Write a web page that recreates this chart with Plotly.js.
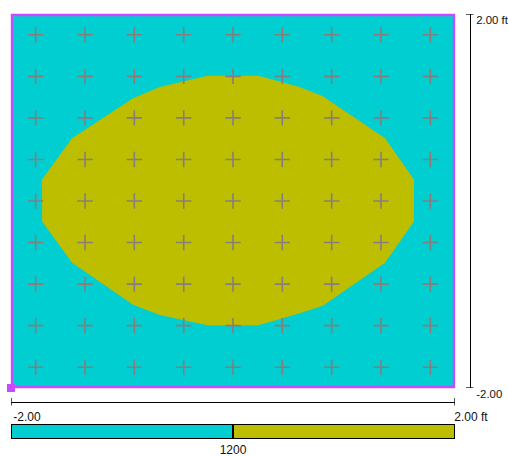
<!DOCTYPE html>
<html>
<head>
<meta charset="utf-8">
<script src="https://cdn.plot.ly/plotly-3.0.1.min.js"></script>
<style>html,body{margin:0;padding:0;background:#fff;}#chart{width:508px;height:456px;}</style>
</head>
<body>
<div id="chart"></div>
<script>
// Grid sample positions (ft)
const gridX = [-1.778, -1.333, -0.889, -0.444, 0, 0.444, 0.889, 1.333, 1.778];
const gridY = [-1.778, -1.333, -0.889, -0.444, 0, 0.444, 0.889, 1.333, 1.778];

// Contour region (value >= 1200) outline, ft
const regionX = [-1.72, -1.45, -0.90, -0.66, -0.23, 0.23, 0.60, 0.81, 1.37, 1.63, 1.63, 1.37, 0.81, 0.60, 0.23, -0.23, -0.66, -0.90, -1.45, -1.72];
const regionY = [0.23, 0.67, 1.10, 1.22, 1.34, 1.34, 1.22, 1.12, 0.67, 0.23, -0.22, -0.66, -1.12, -1.20, -1.33, -1.33, -1.22, -1.11, -0.66, -0.22];

// Axis extents and labels
const extent = [-2, 2];
const xTickText = ['-2.00', '2.00 ft'];
const yTickText = ['-2.00', '2.00 ft'];

// Legend bar levels
const legendLevels = [0, 1];
const legendTickPos = [0.5];
const legendTickText = ['1200'];

const CYAN = 'rgb(0,206,209)';
const OLIVE = 'rgb(190,190,0)';
const MAGENTA = 'rgb(200,76,255)';

const px = [], py = [];
gridY.forEach(y => gridX.forEach(x => { px.push(x); py.push(y); }));

const W = 508, H = 456;
const xDom = [11 / W, 455 / W];
const yDom = [1 - 388 / H, 1 - 14 / H];

const traces = [
  {
    type: 'scatter', x: regionX, y: regionY, mode: 'lines', fill: 'toself',
    fillcolor: OLIVE, line: {width: 0, color: OLIVE}, hoverinfo: 'skip', showlegend: false
  },
  {
    type: 'scatter', x: px, y: py, mode: 'markers',
    marker: {symbol: 'cross-thin', size: 11, line: {width: 1.6, color: 'rgb(135,125,125)'}},
    hoverinfo: 'skip', showlegend: false
  },
  {
    type: 'scatter', x: [extent[0]], y: [extent[0]], mode: 'markers', cliponaxis: false,
    marker: {symbol: 'square', size: 8, color: MAGENTA}, hoverinfo: 'skip', showlegend: false
  },
  {
    type: 'heatmap', x: legendLevels, y: [0], z: [legendLevels], xaxis: 'x3', yaxis: 'y3',
    colorscale: [[0, CYAN], [0.5, CYAN], [0.5, OLIVE], [1, OLIVE]],
    showscale: false, hoverinfo: 'skip'
  }
];

const tickFont = {family: 'Liberation Sans, Arial, sans-serif', size: 12, color: '#111'};
const yTickFont = {family: 'Liberation Sans, Arial, sans-serif', size: 11.4, color: '#111'};

const layout = {
  width: W, height: H,
  margin: {l: 0, r: 0, t: 0, b: 0, pad: 0},
  paper_bgcolor: '#fff',
  plot_bgcolor: CYAN,
  showlegend: false,
  xaxis: {
    domain: xDom, range: extent, anchor: 'free', position: 1 - 401.7 / H,
    showline: true, linecolor: '#000', linewidth: 1.3, showgrid: false, zeroline: false,
    tickvals: extent, ticktext: xTickText, ticks: '', tickfont: tickFont,
    ticklabelshift: 16, ticklabelstandoff: 4, fixedrange: true
  },
  yaxis: {
    domain: yDom, range: extent, anchor: 'free', side: 'right', position: 469.7 / W,
    showline: true, linecolor: '#000', linewidth: 1.3, showgrid: false, zeroline: false,
    tickvals: extent, ticktext: yTickText, ticks: '', tickfont: yTickFont,
    ticklabelshift: 6, ticklabelstandoff: 3, fixedrange: true
  },
  xaxis3: {
    domain: [12 / W, 454 / W], range: [-0.5, 1.5], anchor: 'y3',
    showline: true, mirror: true, linecolor: '#000', linewidth: 1, showgrid: false, zeroline: false,
    tickvals: legendTickPos, ticktext: legendTickText, ticks: 'inside', ticklen: 13, tickwidth: 1.2,
    tickcolor: '#000', tickfont: tickFont, ticklabelstandoff: 1, fixedrange: true
  },
  yaxis3: {
    domain: [1 - 438 / H, 1 - 425 / H], range: [-0.5, 0.5], anchor: 'x3',
    showline: true, mirror: true, linecolor: '#000', linewidth: 1, showgrid: false, zeroline: false,
    showticklabels: false, ticks: '', fixedrange: true
  },
  shapes: [
    {type: 'rect', xref: 'paper', yref: 'paper', x0: 12 / W, x1: 454 / W, y0: 1 - 387 / H, y1: 1 - 15 / H,
     line: {color: MAGENTA, width: 2.4}, fillcolor: 'rgba(0,0,0,0)', layer: 'above'},
    {type: 'line', xref: 'paper', yref: 'y', x0: 466 / W, x1: 473.4 / W, y0: extent[1], y1: extent[1], line: {color: '#000', width: 1.3}},
    {type: 'line', xref: 'paper', yref: 'y', x0: 466 / W, x1: 473.4 / W, y0: extent[0], y1: extent[0], line: {color: '#000', width: 1.3}},
    {type: 'line', xref: 'x', yref: 'paper', x0: extent[0], x1: extent[0], y0: 1 - 405.5 / H, y1: 1 - 398 / H, line: {color: '#000', width: 1.3}},
    {type: 'line', xref: 'x', yref: 'paper', x0: extent[1], x1: extent[1], y0: 1 - 405.5 / H, y1: 1 - 398 / H, line: {color: '#000', width: 1.3}}
  ]
};

Plotly.newPlot('chart', traces, layout, {displayModeBar: false, staticPlot: true});
</script>
</body>
</html>
